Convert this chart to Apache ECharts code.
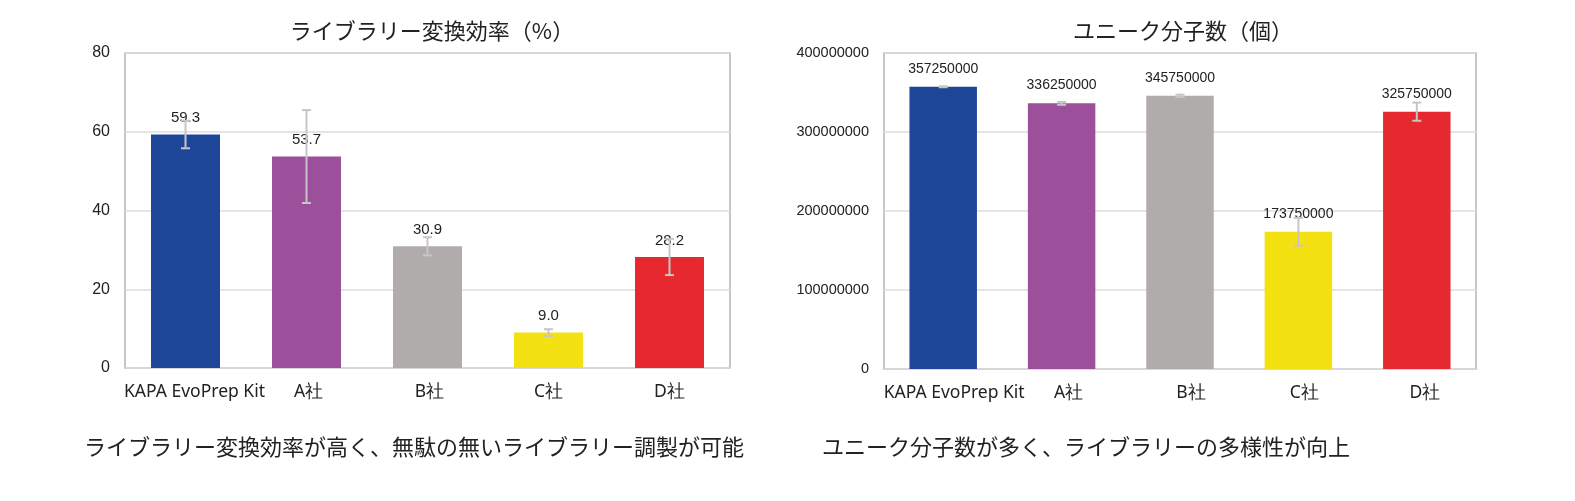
<!DOCTYPE html>
<html>
<head>
<meta charset="utf-8">
<script src="https://cdn.jsdelivr.net/npm/echarts@6/dist/echarts.min.js"></script>
<style>
  html, body { margin: 0; padding: 0; background: #fff; }
  #chart { width: 1575px; height: 501px; }
</style>
</head>
<body>
<div id="chart"></div>
<script>
// categories and values
var categories = ['KAPA EvoPrep Kit', 'A社', 'B社', 'C社', 'D社']
var barColors = ['#1d4699', '#9c4f9a', '#b1acac', '#f3e111', '#e6292f']

var efficiency = [59.3, 53.7, 30.9, 9.0, 28.2]
var efficiencyErr = [3.5, 11.8, 2.3, 0.85, 4.6]
var efficiencyTicks = [0, 20, 40, 60, 80]

var molecules = [357250000, 336250000, 345750000, 173750000, 325750000]
var moleculesErr = [600000, 1800000, 1500000, 17500000, 11500000]
var moleculesTicks = [0, 100000000, 200000000, 300000000, 400000000]

var titles = ['ライブラリー変換効率（%）', 'ユニーク分子数（個）']
var captions = [
  'ライブラリー変換効率が高く、無駄の無いライブラリー調製が可能',
  'ユニーク分子数が多く、ライブラリーの多様性が向上'
]

var jpFont = '"Noto Sans CJK JP", "Noto Sans", sans-serif'
var numFont = '"Liberation Sans", Arial, sans-serif'

function barData(values) {
  return values.map(function (v, i) {
    return { value: v, itemStyle: { color: barColors[i] } }
  })
}

function errData(values, errs) {
  return values.map(function (v, i) {
    return [i, v - errs[i], v + errs[i]]
  })
}

function renderError(params, api) {
  var top = api.coord([api.value(0), api.value(2)])
  var bot = api.coord([api.value(0), api.value(1)])
  var half = 4.5
  var style = { stroke: '#c6c6c6', lineWidth: 2 }
  return {
    type: 'group',
    children: [
      { type: 'line', shape: { x1: top[0], y1: top[1], x2: bot[0], y2: bot[1] }, style: style },
      { type: 'line', shape: { x1: top[0] - half, y1: top[1], x2: top[0] + half, y2: top[1] }, style: style },
      { type: 'line', shape: { x1: bot[0] - half, y1: bot[1], x2: bot[0] + half, y2: bot[1] }, style: style }
    ]
  }
}

function xAxisFor(idx, pad) {
  return {
    type: 'category',
    gridIndex: idx,
    data: categories.map(function (c, i) {
      return { value: c, textStyle: { padding: [0, 0, 0, pad[i]] } }
    }),
    axisTick: { show: false },
    axisLine: { show: false },
    axisLabel: {
      color: '#222',
      fontSize: 17.5,
      fontFamily: '"Noto Sans", sans-serif',
      margin: 15,
      interval: 0
    }
  }
}

function yAxisFor(idx, ticks, size) {
  return {
    type: 'value',
    gridIndex: idx,
    min: ticks[0],
    max: ticks[ticks.length - 1],
    interval: ticks[1] - ticks[0],
    axisLine: { show: false },
    axisTick: { show: false },
    axisLabel: {
      color: '#222',
      fontSize: size,
      fontFamily: numFont,
      margin: 15,
      formatter: function (v) { return String(v) }
    },
    splitLine: { lineStyle: { color: '#dcdcdc', width: 1.5 } }
  }
}

var chart = echarts.init(document.getElementById('chart'))

var option = {
  backgroundColor: '#fff',
  animation: false,
  title: [
    { text: titles[0], left: 427, top: 15, textAlign: 'center',
      textStyle: { fontSize: 22, fontWeight: 'normal', color: '#222', fontFamily: jpFont } },
    { text: titles[1], left: 1178, top: 15, textAlign: 'center',
      textStyle: { fontSize: 22, fontWeight: 'normal', color: '#222', fontFamily: jpFont } },
    { text: captions[0], left: 79, top: 431,
      textStyle: { fontSize: 22, fontWeight: 'normal', color: '#222', fontFamily: jpFont } },
    { text: captions[1], left: 817, top: 431,
      textStyle: { fontSize: 22, fontWeight: 'normal', color: '#222', fontFamily: jpFont } }
  ],
  grid: [
    { left: 125, top: 53, width: 605, height: 315, show: true, borderColor: '#b4b4b4', borderWidth: 1.5 },
    { left: 884, top: 53, width: 592, height: 316, show: true, borderColor: '#b4b4b4', borderWidth: 1.5 }
  ],
  xAxis: [
    xAxisFor(0, [18, 4, 4, 0, 0]),
    xAxisFor(1, [22, 14, 22, 12, 16])
  ],
  yAxis: [
    yAxisFor(0, efficiencyTicks, 16),
    yAxisFor(1, moleculesTicks, 14.5)
  ],
  series: [
    {
      type: 'bar',
      xAxisIndex: 0,
      yAxisIndex: 0,
      barWidth: '57%',
      data: barData(efficiency),
      label: {
        show: true,
        position: 'top',
        distance: 9,
        color: '#222',
        fontSize: 15,
        fontFamily: numFont,
        formatter: function (p) { return p.value.toFixed(1) }
      }
    },
    {
      type: 'custom',
      xAxisIndex: 0,
      yAxisIndex: 0,
      renderItem: renderError,
      data: errData(efficiency, efficiencyErr),
      z: 5
    },
    {
      type: 'bar',
      xAxisIndex: 1,
      yAxisIndex: 1,
      barWidth: '57%',
      data: barData(molecules),
      label: {
        show: true,
        position: 'top',
        distance: 11,
        color: '#222',
        fontSize: 14,
        fontFamily: numFont
      }
    },
    {
      type: 'custom',
      xAxisIndex: 1,
      yAxisIndex: 1,
      renderItem: renderError,
      data: errData(molecules, moleculesErr),
      z: 5
    }
  ]
}

chart.setOption(option)

window.addEventListener('resize', function () {
  chart.resize()
})
</script>
</body>
</html>
